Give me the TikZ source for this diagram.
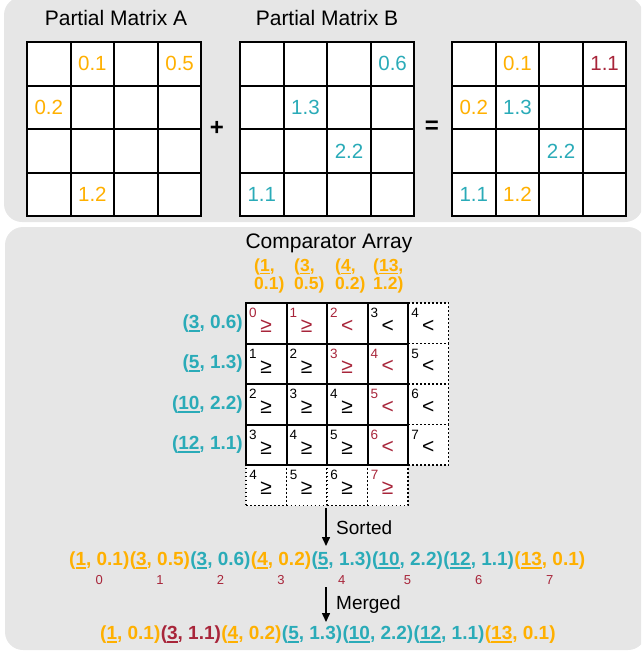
\documentclass[tikz,border=0pt]{standalone}
\usepackage{fontspec}
\setmainfont{Liberation Sans}
\usetikzlibrary{calc,arrows.meta}
\definecolor{panelgray}{HTML}{E6E6E6}
\definecolor{amberc}{HTML}{FFB000}
\definecolor{tealc}{HTML}{2AABB8}
\definecolor{crimc}{HTML}{A8253A}
\newcommand\fsz[2]{\fontsize{#1}{#2}\selectfont}
\newcommand\ulx[1]{\setbox0\hbox{#1}\rlap{\rule[-3.2pt]{\wd0}{1.7pt}}\box0}
\newcommand\tup[2]{(\ulx{#1}, #2)}
\tikzset{
  panel/.style={fill=panelgray, rounded corners=18pt},
  mcell/.style={draw=black, line width=2pt, minimum size=43.6pt, inner sep=0pt, fill=white},
  num/.style={font=\fsz{20.5}{24}, inner sep=0pt},
  title/.style={font=\fsz{21}{25}, inner sep=0pt},
  opsym/.style={font=\bfseries\fsz{24}{28}, inner sep=0pt},
  ccell/.style={draw=black, line width=2pt, minimum size=40.5pt, inner sep=0pt, fill=white},
  dcell/.style={draw=black, line width=1.6pt, dash pattern=on 1.6pt off 2.4pt, minimum size=40.5pt, inner sep=0pt, fill=white},
  cidx/.style={font=\fsz{13.5}{16}, inner sep=0pt},
  csym/.style={font=\fsz{21}{25}, inner sep=0pt},
  collab/.style={font=\bfseries\fsz{17.5}{18.5}, text=amberc, align=left, inner sep=0pt, anchor=west},
  rowlab/.style={font=\bfseries\fsz{19}{22}, text=tealc, inner sep=0pt, anchor=east},
  seq/.style={font=\bfseries\fsz{19}{22}, inner sep=0pt, anchor=west},
  sidx/.style={font=\fsz{13}{16}, text=crimc, inner sep=0pt},
  steplab/.style={font=\fsz{19}{22}, inner sep=0pt, anchor=west},
  arr/.style={line width=1.5pt, -{Triangle[length=9pt,width=8pt]}}
}
\begin{document}
\begin{tikzpicture}[x=1pt,y=-1pt]
\useasboundingbox (0,0) rectangle (641,651);
\begin{scope}
\clip (0,0) rectangle (641,651);
\fill[panel] (4,-3) rectangle (643,222);
\fill[panel] (5,227) rectangle (646,650);
\end{scope}

% ---------- top: matrices ----------
\node[title] (tA) at (116,18) {Partial Matrix A};
\node[title] (tB) at (327,18) {Partial Matrix B};
\foreach \m/\x in {A/27,B/240,C/452}{
  \foreach \r in {0,...,3}{
    \foreach \c in {0,...,3}{
      \node[mcell] (\m\r\c) at ({\x+21.8+43.6*\c},{42+21.8+43.6*\r}) {};
    }
  }
}
\node[num, text=amberc] (vA01) at (A01) {0.1};
\node[num, text=amberc] (vA03) at (A03) {0.5};
\node[num, text=amberc] (vA10) at (A10) {0.2};
\node[num, text=amberc] (vA31) at (A31) {1.2};
\node[num, text=tealc] (vB03) at (B03) {0.6};
\node[num, text=tealc] (vB11) at (B11) {1.3};
\node[num, text=tealc] (vB22) at (B22) {2.2};
\node[num, text=tealc] (vB30) at (B30) {1.1};
\node[num, text=amberc] (vC01) at (C01) {0.1};
\node[num, text=crimc] (vC03) at (C03) {1.1};
\node[num, text=amberc] (vC10) at (C10) {0.2};
\node[num, text=tealc] (vC11) at (C11) {1.3};
\node[num, text=tealc] (vC22) at (C22) {2.2};
\node[num, text=tealc] (vC30) at (C30) {1.1};
\node[num, text=amberc] (vC31) at (C31) {1.2};
\node[opsym] (plus) at (217,128) {+};
\node[opsym] (eq) at (432,127) {=};

% ---------- comparator array ----------
\node[title] (tCmp) at (329,243) {Comparator Array};
\node[collab] (c0) at (254,276) {(\ulx{1},\\0.1)};
\node[collab] (c1) at (294,276) {(\ulx{3},\\0.5)};
\node[collab] (c2) at (335,276) {(\ulx{4},\\0.2)};
\node[collab] (c3) at (373,276) {(\ulx{13},\\1.2)};
\node[rowlab] (r0) at (243,323.5) {\tup{3}{0.6}};
\node[rowlab] (r1) at (243,364) {\tup{5}{1.3}};
\node[rowlab] (r2) at (243,404.5) {\tup{10}{2.2}};
\node[rowlab] (r3) at (243,445) {\tup{12}{1.1}};

% dotted cells
\foreach \r in {0,...,3}{
  \node[dcell] (k\r4) at ({246+20.25+40.5*4},{303+20.25+40.5*\r}) {};
}
\foreach \c in {0,...,3}{
  \node[dcell] (k4\c) at ({246+20.25+40.5*\c},{303+20.25+40.5*4}) {};
}
% solid cells
\foreach \r in {0,...,3}{
  \foreach \c in {0,...,3}{
    \node[ccell] (k\r\c) at ({246+20.25+40.5*\c},{303+20.25+40.5*\r}) {};
  }
}
% contents: row/col/symbol/colour
\foreach \r/\c/\s/\col in {
  0/0/≥/crimc, 0/1/≥/crimc, 0/2/</crimc, 0/3/</black, 0/4/</black,
  1/0/≥/black, 1/1/≥/black, 1/2/≥/crimc, 1/3/</crimc, 1/4/</black,
  2/0/≥/black, 2/1/≥/black, 2/2/≥/black, 2/3/</crimc, 2/4/</black,
  3/0/≥/black, 3/1/≥/black, 3/2/≥/black, 3/3/</crimc, 3/4/</black,
  4/0/≥/black, 4/1/≥/black, 4/2/≥/black, 4/3/≥/crimc}{
  \pgfmathtruncatemacro\ix{\r+\c}
  \node[cidx, text=\col] (n\r\c) at ($(k\r\c.north west)+(8,11)$) {\ix};
  \node[csym, text=\col] (y\r\c) at ($(k\r\c.center)+(0,3)$) {\s};
}

% ---------- sorted ----------
\coordinate (a1s) at (326,508);
\coordinate (a1e) at (326,546);
\draw[arr] (a1s) -- (a1e);
\node[steplab] (lsorted) at (336,528) {Sorted};

\node[seq, text=amberc] (s0) at (69,561) {\tup{1}{0.1}};
\node[seq, text=amberc] (s1) at (s0.east) {\tup{3}{0.5}};
\node[seq, text=tealc] (s2) at (s1.east) {\tup{3}{0.6}};
\node[seq, text=amberc] (s3) at (s2.east) {\tup{4}{0.2}};
\node[seq, text=tealc] (s4) at (s3.east) {\tup{5}{1.3}};
\node[seq, text=tealc] (s5) at (s4.east) {\tup{10}{2.2}};
\node[seq, text=tealc] (s6) at (s5.east) {\tup{12}{1.1}};
\node[seq, text=amberc] (s7) at (s6.east) {\tup{13}{0.1}};
\foreach \i in {0,...,7}{
  \node[sidx] (si\i) at ($(s\i.center)+(0,19)$) {\i};
}

% ---------- merged ----------
\coordinate (a2s) at (326,587);
\coordinate (a2e) at (326,622);
\draw[arr] (a2s) -- (a2e);
\node[steplab] (lmerged) at (336,605) {Merged};

\node[seq, text=amberc] (m0) at (100,635) {\tup{1}{0.1}};
\node[seq, text=crimc] (m1) at (m0.east) {\tup{3}{1.1}};
\node[seq, text=amberc] (m2) at (m1.east) {\tup{4}{0.2}};
\node[seq, text=tealc] (m3) at (m2.east) {\tup{5}{1.3}};
\node[seq, text=tealc] (m4) at (m3.east) {\tup{10}{2.2}};
\node[seq, text=tealc] (m5) at (m4.east) {\tup{12}{1.1}};
\node[seq, text=amberc] (m6) at (m5.east) {\tup{13}{0.1}};
\end{tikzpicture}
\end{document}
